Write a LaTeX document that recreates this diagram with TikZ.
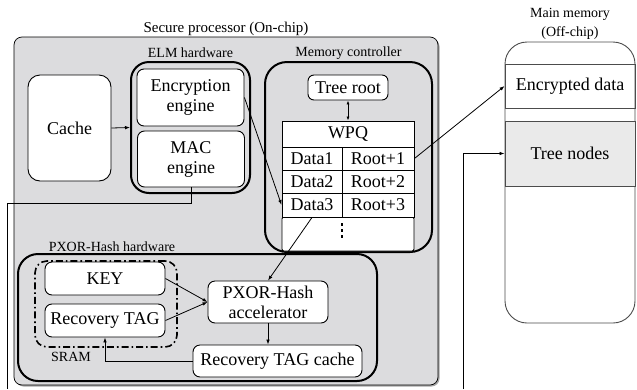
\documentclass[tikz,border=0pt]{standalone}
\usepackage{fontspec}
\setmainfont{Liberation Serif}
\usetikzlibrary{arrows.meta}
\definecolor{spgrey}{HTML}{DCDCDE}
\definecolor{tngrey}{HTML}{EAEAEA}
\newcommand\mainfs{\fontsize{18}{20}\selectfont}
\newcommand\smallfs{\fontsize{14}{17}\selectfont}
\begin{document}
\begin{tikzpicture}[x=1pt,y=-1pt,
  box/.style={draw, fill=white, rounded corners=7pt, line width=0.9pt, inner sep=0pt, align=center, font=\mainfs},
  grp/.style={draw, line width=2pt, rounded corners=18pt, inner sep=0pt},
  cell/.style={draw, fill=white, line width=0.9pt, inner sep=0pt, font=\mainfs},
  lbl/.style={font=\smallfs, inner sep=0pt, align=center},
  arr/.style={-{Latex[length=5pt,width=3.6pt]}, line width=0.8pt},
  darr/.style={{Latex[length=4pt,width=3pt]}-{Latex[length=4pt,width=3pt]}, line width=0.8pt},
  wire/.style={line width=0.8pt},
  mmline/.style={draw=black!70, line width=0.9pt}]
\useasboundingbox (0,0) rectangle (637,389);

% secure processor
\fill[black!35, rounded corners=8pt] (15.5,38.5) rectangle (439.5,386.5);
\node[draw, fill=spgrey, line width=0.7pt, rounded corners=8pt, inner sep=0pt,
  minimum width=424pt, minimum height=348pt] (sp) at (226,211) {};
\node[lbl, font=\fontsize{15}{17}\selectfont] (sptitle) at (226,29) {Secure processor (On-chip)};

% ELM hardware
\node[grp, minimum width=119pt, minimum height=131pt] (elm) at (190.5,127.5) {};
\node[lbl] (elmlbl) at (190.5,53) {ELM hardware};
\node[box, minimum width=107pt, minimum height=57pt] (enc) at (190.5,97.5) {Encryption\\engine};
\node[box, minimum width=107pt, minimum height=56pt] (mac) at (191,159) {MAC\\engine};

% Cache
\node[box, rounded corners=12pt, minimum width=83pt, minimum height=106pt] (cache) at (69.5,128) {Cache};

% Memory controller
\node[grp, rounded corners=22pt, minimum width=167pt, minimum height=190pt] (mc) at (348.5,157) {};
\node[lbl] (mclbl) at (348.5,53) {Memory controller};
\node[box, rounded corners=6pt, minimum width=80pt, minimum height=25pt] (root) at (348,87.5) {Tree root};

% WPQ table
\node[cell, rounded corners=2pt, minimum width=132pt, minimum height=34pt] (dots) at (348,234) {};
\node[cell, minimum width=132pt, minimum height=26pt] (wpq) at (348,134) {WPQ};
\node[cell, minimum width=60pt, minimum height=23pt] (d1) at (312,158.5) {Data1};
\node[cell, minimum width=72pt, minimum height=23pt] (r1) at (378,158.5) {Root+1};
\node[cell, minimum width=60pt, minimum height=23pt] (d2) at (312,181.5) {Data2};
\node[cell, minimum width=72pt, minimum height=23pt] (r2) at (378,181.5) {Root+2};
\node[cell, minimum width=60pt, minimum height=24pt] (d3) at (312,205) {Data3};
\node[cell, minimum width=72pt, minimum height=24pt] (r3) at (378,205) {Root+3};
\foreach \yy in {222.5,228.5,234.5} \fill (340.6,\yy) rectangle (343.4,\yy+3);

% PXOR-Hash hardware
\node[grp, rounded corners=20pt, minimum width=359pt, minimum height=127pt] (pxhw) at (197.5,317.5) {};
\node[lbl] (pxlbl) at (112,246.5) {PXOR-Hash hardware};
\node[draw, line width=1.6pt, dash pattern=on 7pt off 3pt on 1.6pt off 3pt, rounded corners=12pt, inner sep=0pt,
  minimum width=142pt, minimum height=86pt] (sram) at (106,304) {};
\node[lbl] (sramlbl) at (71,357) {SRAM};
\node[box, minimum width=120pt, minimum height=33pt] (key) at (105,278.5) {KEY};
\node[box, minimum width=120pt, minimum height=33pt] (rtag) at (105,320.5) {Recovery TAG};
\node[box, minimum width=120pt, minimum height=42pt] (pxacc) at (268,302) {PXOR-Hash\\accelerator};
\node[box, minimum width=169pt, minimum height=32pt] (rtc) at (277.5,361) {Recovery TAG cache};

% Main memory
\node[mmline, fill=white, rounded corners=22pt, inner sep=0pt, minimum width=130pt, minimum height=281pt] (mm) at (570,182.5) {};
\node[lbl, font=\fontsize{14}{19}\selectfont] (mmlbl) at (570,23.5) {Main memory\\(Off-chip)};
\node[mmline, inner sep=0pt, minimum width=130pt, minimum height=44pt, font=\mainfs] (encd) at (570,86) {Encrypted data};
\node[mmline, fill=tngrey, inner sep=0pt, minimum width=130pt, minimum height=65pt, font=\mainfs] (tn) at (570,153.5) {Tree nodes};

% connectors
\coordinate (macturn) at (7,203);
\coordinate (bl) at (7,389);
\coordinate (br) at (463,389);
\draw[arr] (cache.east) -- (elm.west);
\draw[arr] (enc.east) -- (d3.west);
\draw[darr] (root.south) -- (wpq.north -| root.south);
\draw[arr] (r1.east) -- (encd.west);
\draw[arr] (d3.south) -- (pxacc.north);
\draw[arr] (key.east) -- (pxacc.west);
\draw[arr] (rtag.east) -- (pxacc.west);
\draw[arr] (pxacc.south) -- (pxacc.south |- rtc.north);
\draw[arr] (rtc.west) -| (rtag.south);
\draw[wire] (mac.south) |- (macturn) -- (bl);
\draw[arr] (br) |- (tn.west);
\end{tikzpicture}
\end{document}
